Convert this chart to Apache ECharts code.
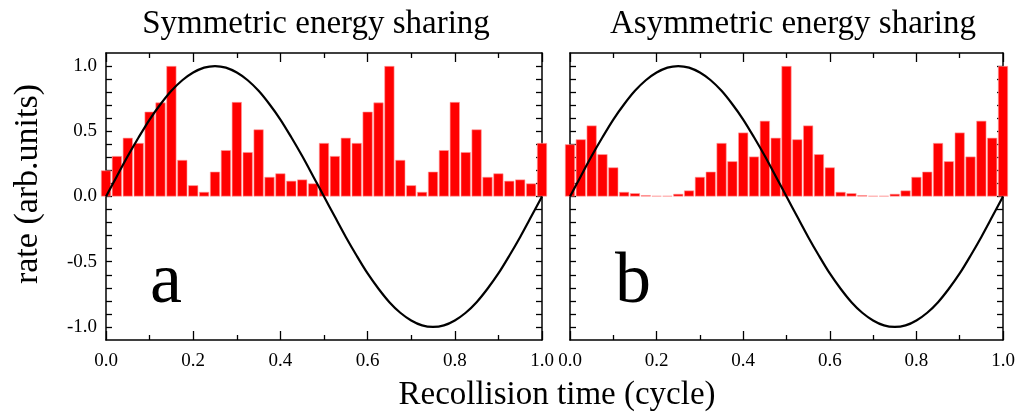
<!DOCTYPE html>
<html>
<head>
<meta charset="utf-8">
<script src="https://cdn.jsdelivr.net/npm/echarts@6/dist/echarts.min.js"></script>
<style>
  html, body { margin: 0; padding: 0; background: #fff; }
  #chart { width: 1021px; height: 417px; }
</style>
</head>
<body>
<div id="chart"></div>
<script>
// recollision rate per bin (bins every 0.025 cycle, centred on 0, 0.025 ... 1.0)
var symRates = [
  0.20, 0.31, 0.45, 0.41, 0.65, 0.72, 1.00, 0.28, 0.086, 0.035,
  0.19, 0.355, 0.724, 0.34, 0.514, 0.15, 0.177, 0.12, 0.13, 0.10,
  0.41, 0.31, 0.45, 0.41, 0.65, 0.72, 1.00, 0.28, 0.086, 0.035,
  0.19, 0.355, 0.724, 0.34, 0.514, 0.15, 0.177, 0.12, 0.13, 0.10,
  0.41
];
var asymRates = [
  0.40, 0.438, 0.544, 0.324, 0.223, 0.035, 0.025, 0.01, 0.005, 0.005,
  0.02, 0.046, 0.15, 0.19, 0.41, 0.27, 0.49, 0.306, 0.58, 0.45,
  1.00, 0.438, 0.544, 0.324, 0.223, 0.035, 0.025, 0.01, 0.005, 0.005,
  0.02, 0.046, 0.15, 0.19, 0.41, 0.27, 0.49, 0.306, 0.58, 0.45,
  1.00
];
// laser field curve, every 0.025 cycle
var fieldY = [
  0, 0.156, 0.31, 0.454, 0.59, 0.707, 0.81, 0.891, 0.95, 0.988,
  1.0, 0.988, 0.95, 0.891, 0.81, 0.707, 0.59, 0.454, 0.31, 0.156,
  0, -0.156, -0.31, -0.454, -0.59, -0.707, -0.81, -0.891, -0.95, -0.988,
  -1.0, -0.988, -0.95, -0.891, -0.81, -0.707, -0.59, -0.454, -0.31, -0.156,
  0
];
var yLabelValues = [-1.0, -0.5, 0.0, 0.5, 1.0];
var yTickValues = [-1.0, -0.9, -0.8, -0.7, -0.6, -0.5, -0.4, -0.3, -0.2, -0.1, 0,
                   0.1, 0.2, 0.3, 0.4, 0.5, 0.6, 0.7, 0.8, 0.9, 1.0];
var panelTitles = ['Symmetric energy sharing', 'Asymmetric energy sharing'];
var panelLetters = ['a', 'b'];

var FONT = '"Liberation Serif", "Times New Roman", serif';
var myChart = echarts.init(document.getElementById('chart'));

var binWidth = 1 / (symRates.length - 1);
function toPairs(vals) {
    return vals.map(function (v, i) { return [i * binWidth, v]; });
}
var fieldData = toPairs(fieldY);

function makeX(gridIndex, pos, showLabel) {
    return {
        type: 'value', gridIndex: gridIndex, position: pos,
        min: 0, max: 1, interval: 0.2,
        axisLine: { show: true, onZero: false, lineStyle: { color: '#000', width: 1.5 } },
        axisTick: { show: true, inside: true, length: 9, lineStyle: { color: '#000', width: 1.3 } },
        minorTick: { show: true, splitNumber: 2, length: 5, lineStyle: { color: '#000', width: 1.3 } },
        splitLine: { show: false },
        axisLabel: {
            show: showLabel, margin: 12, color: '#000', fontSize: 19, fontFamily: FONT,
            formatter: function (v) { return v.toFixed(1); }
        }
    };
}
function makeY(gridIndex, pos, showLabel) {
    return {
        type: 'value', gridIndex: gridIndex, position: pos,
        min: -1.1, max: 1.1,
        axisLine: { show: true, onZero: false, lineStyle: { color: '#000', width: 1.5 } },
        axisTick: { show: true, inside: true, length: 6, customValues: yTickValues,
                    lineStyle: { color: '#000', width: 1.3 } },
        splitLine: { show: false },
        axisLabel: {
            show: showLabel, margin: 9, color: '#000', fontSize: 19, fontFamily: FONT,
            customValues: yLabelValues,
            formatter: function (v) { return v.toFixed(1); }
        }
    };
}

function barSeries(idx, vals) {
    return {
        type: 'bar', xAxisIndex: idx * 2, yAxisIndex: idx * 2,
        data: toPairs(vals), barWidth: 10, clip: true, z: 2,
        itemStyle: { color: '#ff0000', borderColor: '#ff9c9c', borderWidth: 0.6 }
    };
}
function fieldSeries(idx) {
    return {
        type: 'line', xAxisIndex: idx * 2, yAxisIndex: idx * 2,
        data: fieldData, smooth: 0.3, showSymbol: false, symbol: 'none', z: 5,
        lineStyle: { color: '#000', width: 2.2 }
    };
}

function textEl(txt, x, y, size, extra) {
    var el = {
        type: 'text', x: x, y: y, z: 100,
        style: { text: txt, fill: '#000', font: size + 'px ' + FONT, align: 'center', verticalAlign: 'middle' }
    };
    if (extra) { for (var k in extra) el[k] = extra[k]; }
    return el;
}

myChart.setOption({
    animation: false,
    backgroundColor: '#fff',
    grid: [
        { left: 106, top: 53, width: 436, height: 287 },
        { left: 570, top: 53, width: 433, height: 287 }
    ],
    xAxis: [
        makeX(0, 'bottom', true), makeX(0, 'top', false),
        makeX(1, 'bottom', true), makeX(1, 'top', false)
    ],
    yAxis: [
        makeY(0, 'left', true), makeY(0, 'right', false),
        makeY(1, 'left', false), makeY(1, 'right', false)
    ],
    series: [
        barSeries(0, symRates), fieldSeries(0),
        barSeries(1, asymRates), fieldSeries(1)
    ],
    graphic: [
        textEl(panelTitles[0], 316, 24, 33),
        textEl(panelTitles[1], 793, 24, 33),
        textEl(panelLetters[0], 166, 283, 72),
        textEl(panelLetters[1], 633, 283, 72),
        textEl('Recollision time (cycle)', 557, 395, 33),
        textEl('rate (arb.units)', 28, 184, 34, { rotation: Math.PI / 2 })
    ]
});
</script>
</body>
</html>
